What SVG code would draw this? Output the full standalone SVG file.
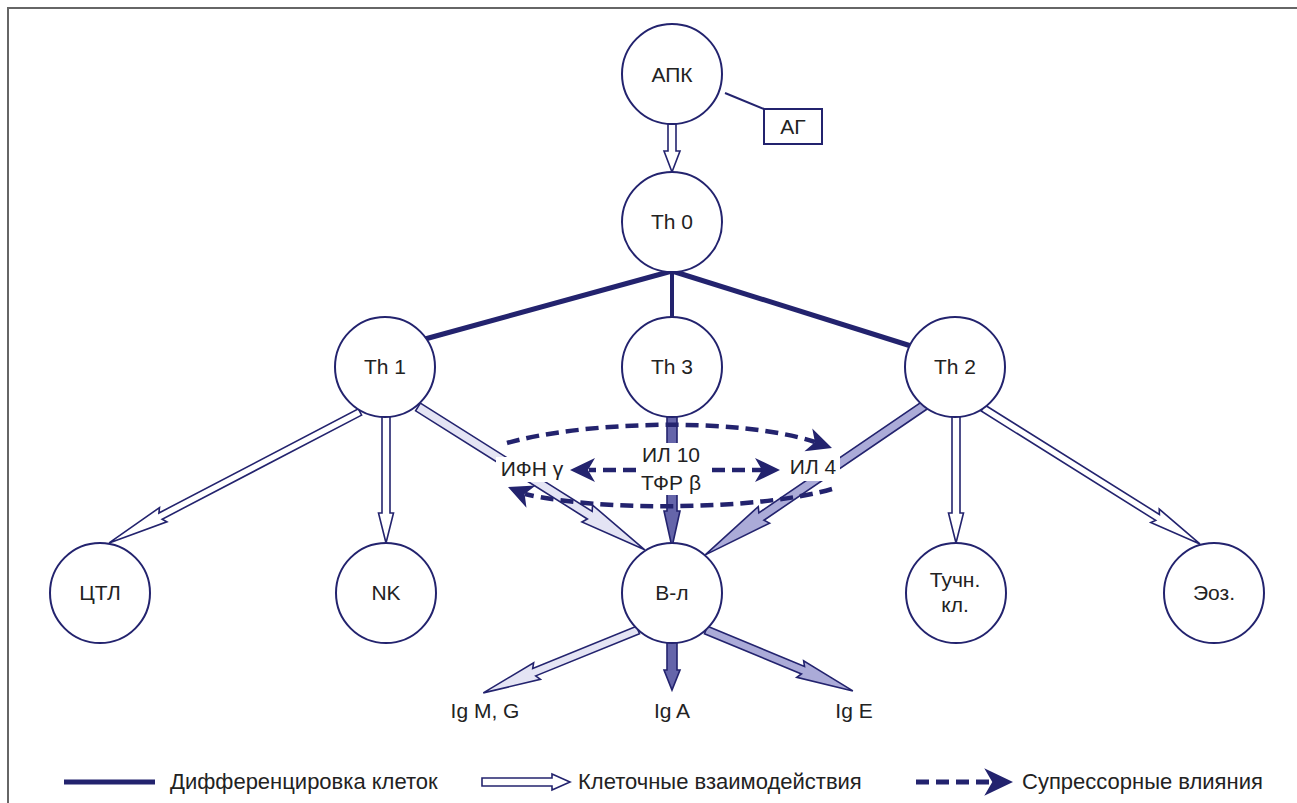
<svg xmlns="http://www.w3.org/2000/svg" width="1297" height="803" viewBox="0 0 1297 803">
<style>
.node circle{fill:#fff;stroke:#23236e;stroke-width:2}
.t{font-family:"Liberation Sans",Arial,sans-serif;font-size:21px;fill:#222;text-anchor:middle}
.lg{font-family:"Liberation Sans",Arial,sans-serif;font-size:22px;fill:#222}
.diff{stroke:#23236e;stroke-width:5;fill:none}
.ar{stroke:#23236e;stroke-width:1.6;stroke-linejoin:miter}
.hollow{fill:#fff}
.light{fill:#e4e4f4}
.mid{fill:#ababd8}
.dark{fill:#6565aa}
.dash{stroke:#23236e;stroke-width:4.5;fill:none;stroke-dasharray:13 7}
.knock{fill:#fff}
</style>
<defs>
<path id="dh" d="M0,0 L-25,-12 L-18,0 L-25,12 Z" fill="#23236e"/>
</defs>
<rect width="1297" height="803" fill="#fff"/>
<path d="M8,803 V8 H1297" fill="none" stroke="#666" stroke-width="2"/>

<g id="connectors">
<line x1="725" y1="93" x2="764" y2="109" stroke="#23236e" stroke-width="2"/>
<line class="diff" x1="672" y1="271" x2="425" y2="339"/>
<line class="diff" x1="672" y1="271" x2="672" y2="318" style="stroke-width:4"/>
<line class="diff" x1="672" y1="271" x2="911" y2="346"/>
<polygon class="ar hollow" transform="translate(672,124) rotate(90)" points="0,-4 27,-4 27,-8 48,0 27,8 27,4 0,4"/>
<polygon class="ar hollow" transform="translate(360,412) rotate(152.44)" points="0,-3.5 225,-3.5 222,-8 283,0 222,8 225,3.5 0,3.5"/>
<polygon class="ar hollow" transform="translate(386,416) rotate(90)" points="0,-4 97,-4 97,-7.5 127,0 97,7.5 97,4 0,4"/>
<polygon class="ar light" transform="translate(418,407) rotate(32.2)" points="0,-4.5 203,-4.5 200,-10 268,0 200,10 203,4.5 0,4.5"/>
<polygon class="ar dark" transform="translate(672,416) rotate(90)" points="0,-5 95,-5 95,-8 131,0 95,8 95,5 0,5"/>
<polygon class="ar mid" transform="translate(925,405) rotate(145.71)" points="0,-4.5 198,-4.5 195,-10 266,0 195,10 198,4.5 0,4.5"/>
<polygon class="ar hollow" transform="translate(956,416) rotate(90)" points="0,-4 97,-4 97,-7.5 127,0 97,7.5 97,4 0,4"/>
<polygon class="ar hollow" transform="translate(983,408) rotate(32.08)" points="0,-3.5 206,-3.5 203,-8 256,0 203,8 206,3.5 0,3.5"/>
<polygon class="ar light" transform="translate(638,630) rotate(157.88)" points="0,-4 112,-4 109,-9 167,0 109,9 112,4 0,4"/>
<polygon class="ar dark" transform="translate(672,641) rotate(90)" points="0,-5 29,-5 29,-8 49,0 29,8 29,5 0,5"/>
<polygon class="ar mid" transform="translate(706,630) rotate(22.53)" points="0,-4 105,-4 102,-9 159,0 102,9 105,4 0,4"/>
<rect class="knock" x="496" y="457" width="74" height="25"/>
<rect class="knock" x="637" y="443" width="68" height="52"/>
<rect class="knock" x="786" y="456" width="54" height="25"/>
<path class="dash" d="M507,443 C580,422 735,416 815,442"/>
<use href="#dh" transform="translate(832,448) rotate(19)"/>
<path class="dash" d="M832,489 C760,510 600,512 525,494"/>
<use href="#dh" transform="translate(508,487) rotate(202.6)"/>
<path class="dash" d="M636,470 H589"/>
<use href="#dh" transform="translate(570,470) rotate(180)"/>
<path class="dash" d="M712,470 H762"/>
<use href="#dh" transform="translate(780,470)"/>
</g>

<g id="apk" class="node"><circle cx="672" cy="74" r="50"/><text class="t" x="672" y="82">АПК</text></g>
<g id="ag"><rect x="764" y="109" width="58" height="35" fill="#fff" stroke="#23236e" stroke-width="2"/><text class="t" x="793" y="134">АГ</text></g>
<g id="th0" class="node"><circle cx="672" cy="222" r="50"/><text class="t" x="672" y="229">Th 0</text></g>
<g id="th1" class="node"><circle cx="385" cy="367" r="50"/><text class="t" x="385" y="374">Th 1</text></g>
<g id="th3" class="node"><circle cx="672" cy="367" r="50"/><text class="t" x="672" y="374">Th 3</text></g>
<g id="th2" class="node"><circle cx="955" cy="367" r="50"/><text class="t" x="955" y="374">Th 2</text></g>
<g id="ctl" class="node"><circle cx="100" cy="593" r="50"/><text class="t" x="100" y="600">ЦТЛ</text></g>
<g id="nk" class="node"><circle cx="386" cy="593" r="50"/><text class="t" x="386" y="600">NK</text></g>
<g id="bl" class="node"><circle cx="672" cy="593" r="50"/><text class="t" x="672" y="600">В-л</text></g>
<g id="tuchn" class="node"><circle cx="956" cy="593" r="50"/><text class="t" x="955" y="587">Тучн.</text><text class="t" x="955" y="612">кл.</text></g>
<g id="eoz" class="node"><circle cx="1214" cy="593" r="50"/><text class="t" x="1214" y="600">Эоз.</text></g>

<g id="labels">
<text class="t" x="532" y="476">ИФН γ</text>
<text class="t" x="671" y="462">ИЛ 10</text>
<text class="t" x="671" y="490">ТФР β</text>
<text class="t" x="813" y="474">ИЛ 4</text>
<text class="t" x="485" y="718">Ig M, G</text>
<text class="t" x="672" y="718">Ig A</text>
<text class="t" x="854" y="718">Ig E</text>
</g>

<g id="legend">
<line x1="64" y1="782" x2="155" y2="782" stroke="#23236e" stroke-width="5"/>
<text class="lg" x="170" y="789">Дифференцировка клеток</text>
<polygon class="ar hollow" transform="translate(482,782)" points="0,-4 70,-4 70,-8 88,0 70,8 70,4 0,4"/>
<text class="lg" x="578" y="789">Клеточные взаимодействия</text>
<path class="dash" d="M916,782 H992" style="stroke-width:5"/>
<use href="#dh" transform="translate(1013,782) scale(1.15)"/>
<text class="lg" x="1022" y="789">Супрессорные влияния</text>
</g>
</svg>
